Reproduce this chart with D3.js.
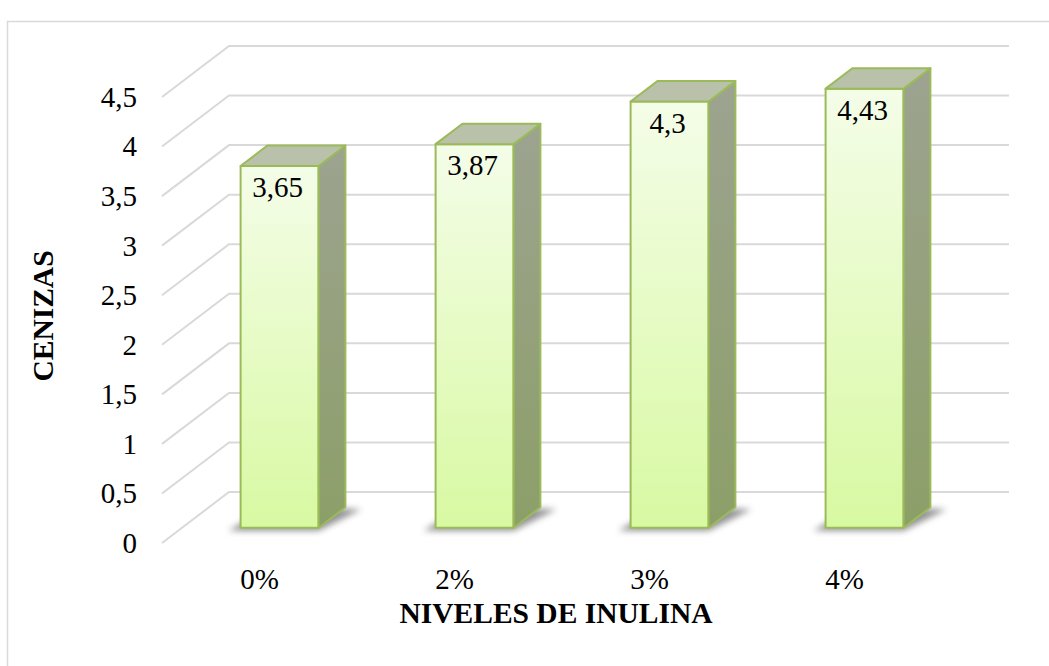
<!DOCTYPE html>
<html lang="es">
<head>
<meta charset="UTF-8">
<title>Cenizas</title>
<script src="https://d3js.org/d3.v7.min.js"></script>
<style>
  body { margin: 0; background: #fff; }
  text { font-family: "Liberation Serif", "Times New Roman", serif; fill: #000; }
</style>
</head>
<body>
<svg width="1049" height="666"></svg>
<script>
// datos
var niveles = ['0%', '2%', '3%', '4%'];
var cenizas = [3.65, 3.87, 4.3, 4.43];
var ticks = [0, 0.5, 1, 1.5, 2, 2.5, 3, 3.5, 4, 4.5];
var etiquetas = ['3,65', '3,87', '4,3', '4,43'];

var svg = d3.select('svg');

// marco del grafico
svg.append('rect')
    .attr('x', 7.5).attr('y', 21.5)
    .attr('width', 1100).attr('height', 700)
    .attr('fill', 'none').attr('stroke', '#d9d9d9').attr('stroke-width', 1.5);

// plano frontal
var x = d3.scaleBand().domain(niveles).range([162, 942])
    .paddingInner(0.6).paddingOuter(0.3);
var y = d3.scaleLinear().domain([0, 4.5]).range([543, 97]);

// desplazamiento de profundidad (0 = frente, 1 = fondo)
var DX = 67, DY = 51;
function p(px, py, d) { return [px + DX * d, py - DY * d]; }

var defs = svg.append('defs');
var gFront = defs.append('linearGradient').attr('id', 'gFront')
    .attr('x1', 0).attr('y1', 0).attr('x2', 0).attr('y2', 1);
gFront.append('stop').attr('offset', 0).attr('stop-color', '#f4fde8');
gFront.append('stop').attr('offset', 1).attr('stop-color', '#d8f9a2');
var gSide = defs.append('linearGradient').attr('id', 'gSide')
    .attr('x1', 0).attr('y1', 0).attr('x2', 0).attr('y2', 1);
gSide.append('stop').attr('offset', 0).attr('stop-color', '#9da390');
gSide.append('stop').attr('offset', 1).attr('stop-color', '#8c9f68');
defs.append('filter').attr('id', 'blur')
    .attr('x', -0.5).attr('y', -0.5).attr('width', 2).attr('height', 2)
    .append('feGaussianBlur').attr('stdDeviation', 3);

// lineas de division (pared lateral + pared del fondo)
var grid = svg.append('g');
ticks.forEach(function (t) {
    var a = p(162, y(t), 0), b = p(162, y(t), 1), c = p(942, y(t), 1);
    grid.append('polyline')
        .attr('points', [a, b, c].map(function (q) { return q.join(','); }).join(' '))
        .attr('fill', 'none').attr('stroke', '#d9d9d9').attr('stroke-width', 2);
});

// etiquetas del eje Y
svg.append('g').selectAll('text').data(ticks).enter().append('text')
    .attr('x', 137).attr('y', function (d) { return y(d); })
    .attr('dy', '0.34em').attr('text-anchor', 'end').attr('font-size', 29)
    .text(function (d) { return String(d).replace('.', ','); });

// barras 3D
var d0 = 0.3, d1 = 0.7;
function pts(arr) { return arr.map(function (q) { return q.join(','); }).join(' '); }
var bars = svg.append('g').selectAll('g').data(cenizas).enter().append('g');

bars.each(function (v, i) {
    var g = d3.select(this);
    var xl = x(niveles[i]), xr = xl + x.bandwidth();
    var y0 = y(0), yv = y(v);
    var fl = p(xl, y0, d0), fr = p(xr, y0, d0), br = p(xr, y0, d1), bl = p(xl, y0, d1);
    // sombra
    g.append('polygon')
        .attr('points', pts([[fl[0] - 12, fl[1] + 3], [fr[0], fr[1] + 3], [br[0] + 16, br[1] + 2], [bl[0], bl[1]]]))
        .attr('fill', '#3a3a3a').attr('opacity', 0.55).attr('filter', 'url(#blur)');
    // cara frontal
    var ftl = p(xl, yv, d0), ftr = p(xr, yv, d0);
    g.append('polygon').attr('points', pts([ftl, ftr, fr, fl]))
        .attr('fill', 'url(#gFront)').attr('stroke', '#9bbb59').attr('stroke-width', 2)
        .attr('stroke-linejoin', 'round');
    // cara lateral
    var btr = p(xr, yv, d1);
    g.append('polygon').attr('points', pts([ftr, btr, br, fr]))
        .attr('fill', 'url(#gSide)').attr('stroke', '#9bbb59').attr('stroke-width', 2)
        .attr('stroke-linejoin', 'round');
    // cara superior
    var btl = p(xl, yv, d1);
    g.append('polygon').attr('points', pts([ftl, btl, btr, ftr]))
        .attr('fill', '#b9c1aa').attr('stroke', '#9bbb59').attr('stroke-width', 2)
        .attr('stroke-linejoin', 'round');
    // etiqueta de datos
    g.append('text')
        .attr('x', (ftl[0] + ftr[0]) / 2 - 2).attr('y', ftl[1] + 31)
        .attr('text-anchor', 'middle').attr('font-size', 29)
        .text(etiquetas[i]);
});

// etiquetas del eje X
svg.append('g').selectAll('text').data(niveles).enter().append('text')
    .attr('x', function (d) { return x(d) + x.bandwidth() / 2; })
    .attr('y', 589).attr('text-anchor', 'middle').attr('font-size', 29)
    .text(function (d) { return d; });

// titulos
svg.append('text').attr('x', 556).attr('y', 623)
    .attr('text-anchor', 'middle').attr('font-size', 29.5).attr('font-weight', 'bold')
    .text('NIVELES DE INULINA');
svg.append('text').attr('transform', 'translate(53,316) rotate(-90)')
    .attr('text-anchor', 'middle').attr('font-size', 29.5).attr('font-weight', 'bold')
    .text('CENIZAS');
</script>
</body>
</html>
